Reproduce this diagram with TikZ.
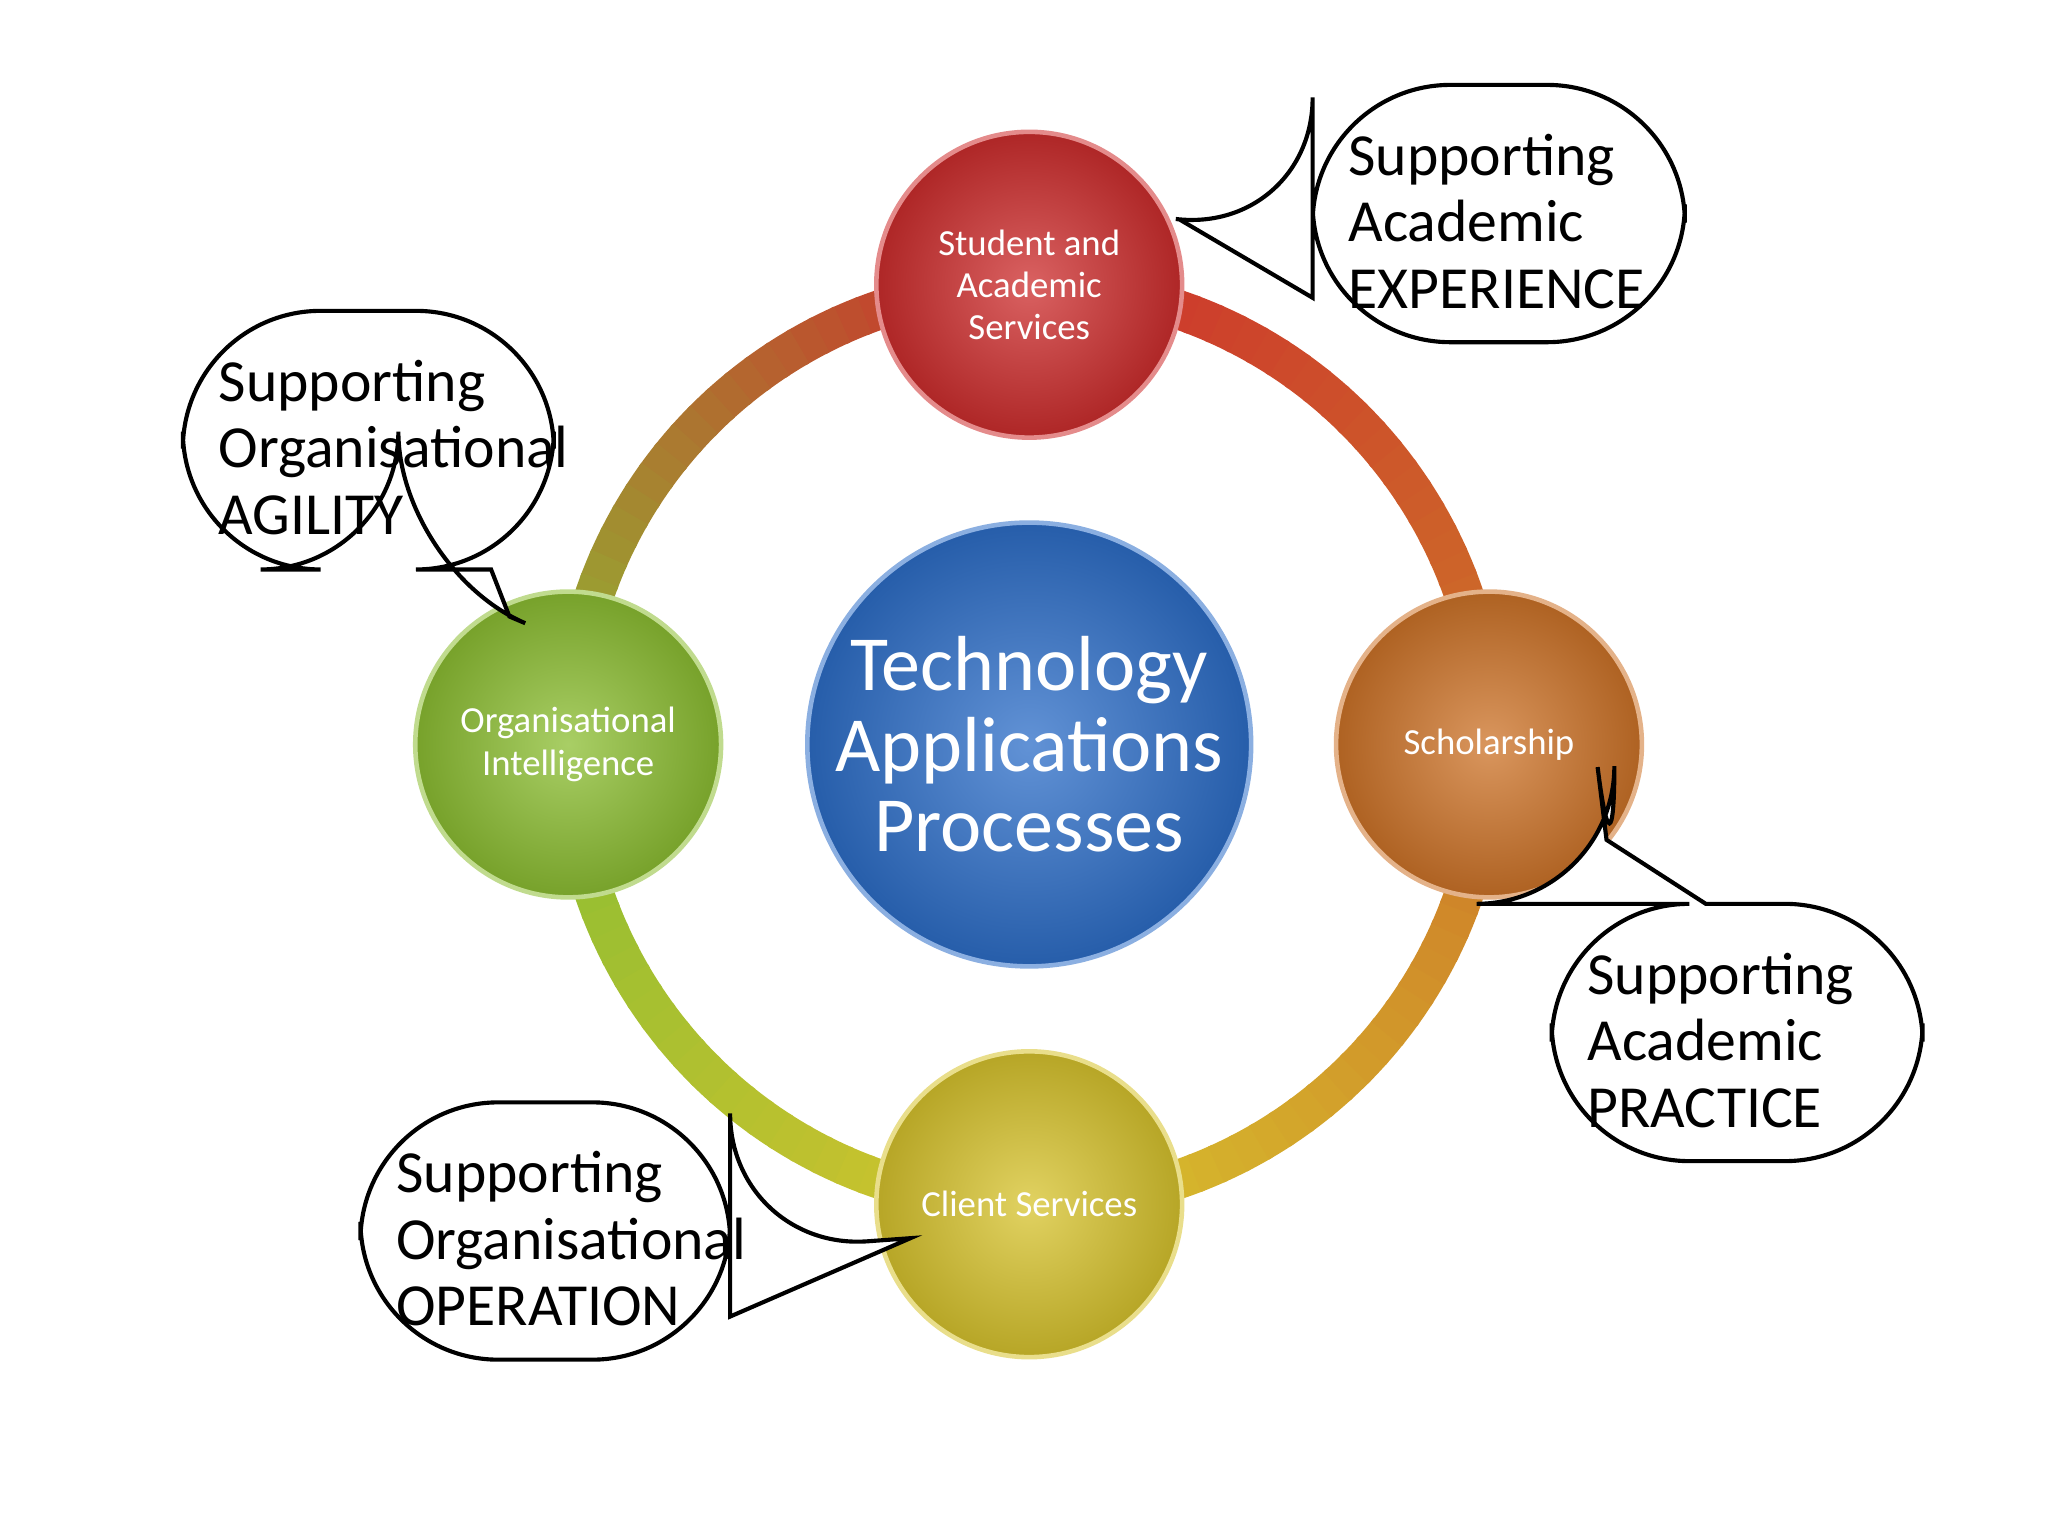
\documentclass[tikz,border=0pt]{standalone}
\usepackage{fontspec}
\setmainfont{Carlito}
\usepackage{tikz}
\definecolor{topc}{RGB}{205,45,45}
\definecolor{rightc}{RGB}{205,115,40}
\definecolor{botc}{RGB}{215,195,45}
\definecolor{leftc}{RGB}{140,190,50}
\definecolor{midc}{RGB}{45,110,200}
\tikzset{
  ball/.style={circle, minimum size=2.34cm, inner sep=0pt, align=center, text=white,
    font=\fontsize{8}{9.2}\selectfont, shading=radial,
    inner color=#1!75!white, outer color=#1!85!black, draw=#1!55!white, line width=1pt},
  callout/.style={draw=black, fill=white, line width=0.9pt},
  calltext/.style={anchor=north west, align=left, font=\fontsize{13}{14.5}\selectfont}
}
\begin{document}
\begin{tikzpicture}[x=0.01cm, y=-0.01cm]
  \useasboundingbox (0,0) rectangle (1568,1176);
  % ring
  \foreach \a in {0,3,...,357}{
    \pgfmathtruncatemacro{\q}{int(\a/90)}
    \pgfmathtruncatemacro{\p}{100-int(mod(\a,90)/90*100)}
    \ifcase\q \def\ca{rightc}\def\cb{topc}
    \or \def\ca{topc}\def\cb{leftc}
    \or \def\ca{leftc}\def\cb{botc}
    \else \def\ca{botc}\def\cb{rightc}\fi
    \draw[line width=0.3cm, color=\ca!\p!\cb] (788,570) ++(-\a:352) arc[start angle=-\a, end angle=-\a-3.5, radius=352];
  }
  % circles
  \node[ball=midc, minimum size=3.3cm, font=\fontsize{17}{17.5}\selectfont] (tech) at (788,570) {Technology\\Applications\\Processes};
  \node[ball=topc] (student) at (788,218) {Student and\\Academic\\Services};
  \node[ball=rightc] (scholar) at (1140,570) {Scholarship};
  \node[ball=botc] (client) at (788,922) {Client Services};
  \node[ball=leftc] (orgint) at (435,570) {Organisational\\Intelligence};
  % callouts
  \coordinate (tipA) at (903,168);
  \draw[callout] (1005,180) -- (tipA) -- (1005,228) [rounded corners=30] -- (1005,262) -- (1290,262) -- (1290,65) -- (1005,65) -- (1005,180) -- cycle;
  \node[calltext] (expA) at (1020,90) {Supporting\\Academic\\EXPERIENCE};
  \coordinate (tipB) at (390,472);
  \draw[callout] (305,436) -- (tipB) -- (376,436) [rounded corners=30] -- (424,436) -- (424,238) -- (140,238) -- (140,436) -- (305,436) -- cycle;
  \node[calltext] (expB) at (155,263) {Supporting\\Organisational\\AGILITY};
  \coordinate (tipC) at (1230,643);
  \draw[callout] (1236,692) -- (tipC) -- (1306,692) [rounded corners=30] -- (1472,692) -- (1472,889) -- (1188,889) -- (1188,692) -- (1236,692) -- cycle;
  \node[calltext] (expC) at (1203,717) {Supporting\\Academic\\PRACTICE};
  \coordinate (tipD) at (697,948);
  \draw[callout] (559,958) -- (tipD) -- (559,1008) [rounded corners=30] -- (559,1041) -- (276,1041) -- (276,844) -- (559,844) -- (559,958) -- cycle;
  \node[calltext] (expD) at (291,869) {Supporting\\Organisational\\OPERATION};
\end{tikzpicture}
\end{document}
